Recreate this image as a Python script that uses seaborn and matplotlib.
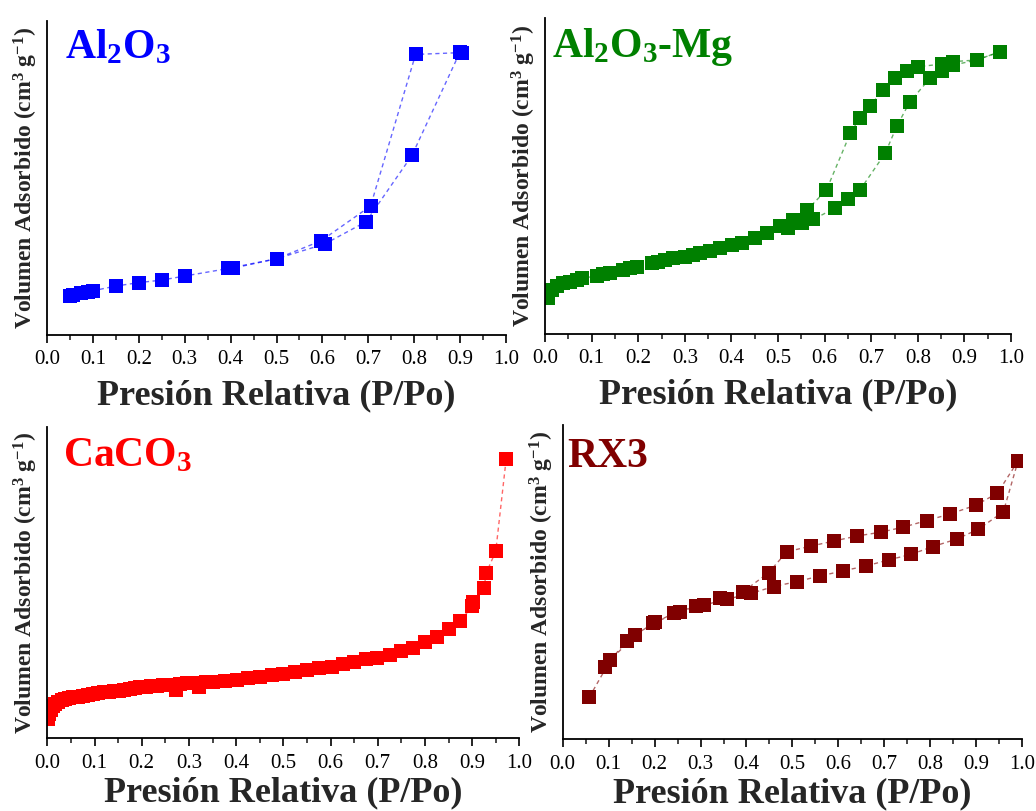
import numpy as np
import pandas as pd
import matplotlib
matplotlib.use('Agg')
import matplotlib.pyplot as plt
from matplotlib.ticker import MultipleLocator
import seaborn as sns

# isotherm data (volume in arbitrary units, axis = 0..100)
al_ads_x = [0.050, 0.057, 0.075, 0.090, 0.100, 0.150, 0.200, 0.250, 0.300, 0.395,
            0.405, 0.500, 0.605, 0.695, 0.795, 0.900]
al_ads_y = [12.5, 12.6, 13.5, 13.8, 14.1, 15.6, 16.7, 17.5, 18.8, 21.2,
            21.3, 24.3, 29.0, 36.1, 57.2, 90.2]
al_des_x = [0.905, 0.803, 0.705, 0.597, 0.500, 0.400]
al_des_y = [90.0, 89.4, 41.1, 30.0, 24.3, 21.4]

mg_ads_x = [0.007, 0.014, 0.025, 0.039, 0.054, 0.068, 0.079, 0.111, 0.125, 0.139,
            0.168, 0.182, 0.197, 0.229, 0.243, 0.258, 0.275, 0.300, 0.318, 0.333,
            0.354, 0.376, 0.401, 0.422, 0.451, 0.476, 0.522, 0.551, 0.576, 0.622,
            0.651, 0.676, 0.730, 0.755, 0.783, 0.826, 0.851, 0.876, 0.926, 0.976]
mg_ads_y = [11.3, 13.9, 15.2, 16.0, 16.6, 17.1, 17.6, 18.4, 18.9, 19.4,
            20.3, 20.8, 21.3, 22.4, 22.9, 23.4, 24.0, 24.5, 25.0, 25.5,
            26.4, 27.1, 28.2, 28.9, 30.3, 31.9, 33.4, 35.0, 36.3, 39.8,
            42.6, 45.6, 57.2, 65.8, 73.5, 80.9, 83.2, 85.1, 86.7, 89.3]
mg_des_x = [0.976, 0.926, 0.876, 0.851, 0.801, 0.776, 0.751, 0.726, 0.697, 0.675,
            0.655, 0.604, 0.562, 0.533, 0.504]
mg_des_y = [89.3, 86.7, 86.2, 85.4, 84.6, 83.3, 80.9, 77.2, 72.2, 68.3,
            63.5, 45.6, 39.2, 36.1, 34.2]

ca_x = [0.002, 0.004, 0.007, 0.011, 0.016, 0.022, 0.030, 0.038, 0.046, 0.055,
        0.065, 0.076, 0.087, 0.097, 0.108, 0.119, 0.130, 0.141, 0.152, 0.163,
        0.175, 0.186, 0.196, 0.208, 0.220, 0.232, 0.244, 0.256, 0.272, 0.280,
        0.295, 0.310, 0.322, 0.337, 0.352, 0.376, 0.401, 0.426, 0.451, 0.475,
        0.500, 0.525, 0.550, 0.576, 0.603, 0.626, 0.650, 0.675, 0.699, 0.726,
        0.749, 0.775, 0.800, 0.825, 0.850, 0.875, 0.900, 0.902, 0.925, 0.930,
        0.950, 0.972]
ca_y = [6.3, 7.9, 9.2, 10.3, 11.1, 11.7, 12.2, 12.5, 12.8, 13.1,
        13.4, 13.7, 14.0, 14.2, 14.5, 14.7, 14.9, 15.1, 15.3, 15.6,
        15.8, 16.0, 16.3, 16.5, 16.7, 16.9, 17.0, 17.2, 15.6, 17.4,
        17.6, 17.8, 16.3, 18.0, 18.1, 18.4, 18.8, 19.2, 19.7, 20.2,
        20.7, 21.3, 21.9, 22.4, 22.9, 23.7, 24.5, 25.3, 25.9, 26.7,
        28.1, 29.0, 31.0, 32.6, 35.1, 37.7, 42.3, 43.6, 48.2, 53.1,
        60.0, 89.5]

rx_ads_x = [0.058, 0.104, 0.158, 0.202, 0.256, 0.307, 0.358, 0.409, 0.459, 0.510,
            0.561, 0.610, 0.661, 0.710, 0.759, 0.805, 0.857, 0.904, 0.959, 0.991]
rx_ads_y = [13.4, 25.2, 33.2, 37.4, 40.4, 42.7, 44.6, 46.4, 48.6, 50.2,
            52.0, 53.6, 55.2, 57.1, 58.9, 61.3, 63.7, 66.8, 72.4, 88.6]
rx_des_x = [0.991, 0.946, 0.899, 0.843, 0.792, 0.741, 0.692, 0.641, 0.590, 0.541,
            0.488, 0.448, 0.393, 0.342, 0.291, 0.242, 0.197, 0.139, 0.093]
rx_des_y = [88.6, 78.3, 74.5, 71.7, 69.6, 67.5, 65.9, 64.7, 63.1, 61.5,
            59.7, 53.0, 47.0, 44.9, 42.4, 40.1, 36.9, 31.4, 23.1]

sns.set_style('ticks')
plt.rcParams['font.family'] = ['Liberation Serif', 'DejaVu Serif']
plt.rcParams['mathtext.fontset'] = 'custom'
plt.rcParams['mathtext.rm'] = 'Liberation Serif'
plt.rcParams['mathtext.bf'] = 'Liberation Serif:bold'
plt.rcParams['mathtext.it'] = 'Liberation Serif:italic'

fig = plt.figure(figsize=(10.36, 8.11), dpi=100)
fig.patch.set_facecolor('white')

panels = [
    ([0.0454, 0.5869, 0.443, 0.387], r'Al$_\mathbf{2}$O$_\mathbf{3}$', '#0000ff',
     [(al_ads_x, al_ads_y), (al_des_x, al_des_y)], (0.04, 0.975), 7),
    ([0.5261, 0.5882, 0.4498, 0.3896], r'Al$_\mathbf{2}$O$_\mathbf{3}$-Mg', '#008000',
     [(mg_ads_x, mg_ads_y), (mg_des_x, mg_des_y)], (0.015, 0.975), 7),
    ([0.0457, 0.0897, 0.4556, 0.3842], r'CaCO$_\mathbf{3}$', '#ff0000',
     [(ca_x, ca_y)], (0.033, 0.965), 3),
    ([0.5431, 0.0884, 0.4436, 0.3875], 'RX3', '#800000',
     [(rx_ads_x, rx_ads_y), (rx_des_x, rx_des_y)], (0.01, 0.96), 3),
]

for rect, name, color, branches, tpos, lpad in panels:
    ax = fig.add_axes(rect)
    for bx, by in branches:
        d = pd.DataFrame({'p': bx, 'v': by})
        sns.lineplot(data=d, x='p', y='v', ax=ax, sort=False, estimator=None,
                     color=color, alpha=0.6, linewidth=1.0, linestyle=(0, (3, 2.5)),
                     zorder=1)
        sns.scatterplot(data=d, x='p', y='v', ax=ax, marker='s', s=105,
                        color=color, linewidth=0, zorder=2)
    ax.set_xlim(0, 1.0)
    ax.set_ylim(0, 100)
    ax.xaxis.set_minor_locator(MultipleLocator(0.05))
    ax.set_xticks(np.arange(0, 1.01, 0.1))
    ax.set_xticklabels([f'{t:.1f}' for t in np.arange(0, 1.01, 0.1)])
    ax.set_yticks([])
    ax.tick_params(axis='x', which='major', direction='out', length=6, width=1.2,
                   labelsize=15, pad=5, colors='black')
    ax.tick_params(axis='x', which='minor', direction='out', length=3.5, width=1.2)
    for s in ['top', 'right']:
        ax.spines[s].set_visible(False)
    for s in ['left', 'bottom']:
        ax.spines[s].set_linewidth(1.3)
        ax.spines[s].set_color('black')
    ax.set_xlabel('Presión Relativa (P/Po)', fontsize=26, fontweight='bold', labelpad=lpad)
    ax.set_ylabel(r'Volumen Adsorbido (cm$^\mathbf{3}$ g$^\mathbf{-1}$)', fontsize=17,
                  fontweight='bold', labelpad=5)
    ax.text(tpos[0], tpos[1], name, transform=ax.transAxes, ha='left', va='top',
            fontsize=30, fontweight='bold', color=color)
    ax.set_facecolor('white')
    if ax.get_legend():
        ax.get_legend().remove()

fig.savefig('out.png', dpi=100)
